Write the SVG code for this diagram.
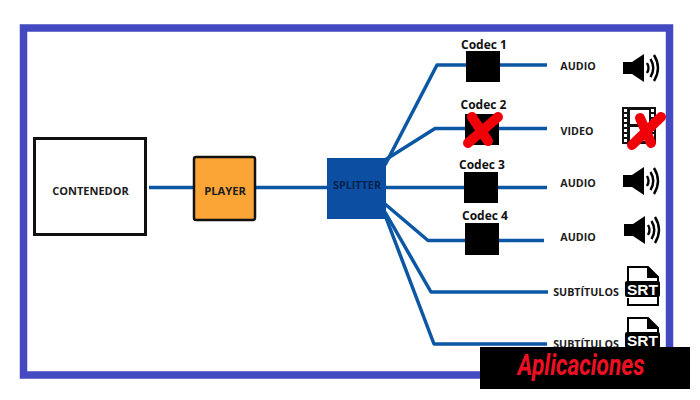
<svg xmlns="http://www.w3.org/2000/svg" width="700" height="400" viewBox="0 0 700 400">
<style>
text{font-family:"Open Sans","Liberation Sans",sans-serif;font-weight:700;fill:#1c1c1c;text-anchor:middle}
.lab{font-size:10.700px}
.cod{font-size:12px;fill:#111}
.wire{fill:none;stroke:#0b57a4;stroke-width:3.500;stroke-linejoin:round}
.codec{fill:#000}
.x{fill:none;stroke:#f00008;stroke-width:10;stroke-linecap:round}
</style>
<defs>
<g id="spk">
<path d="M0 8H9L21 0V28L9 20H0Z" fill="#000"/>
<g fill="none" stroke="#000" stroke-width="2.400">
<path d="M24 9Q27 14 24 19"/>
<path d="M27.500 5Q33 14 27.500 23"/>
<path d="M31 1Q39 14 31 27"/>
</g>
</g>
<g id="srt">
<path d="M3 21V1H23L33 11V39H3V32" fill="#fff" stroke="#000" stroke-width="2"/>
<path d="M23 1V11H33" fill="#000" stroke="#000" stroke-width="2"/>
<rect x="0" y="15" width="35" height="16" rx="2" fill="#000"/>
<text x="17.500" y="28.500" style="font-size:15.500px;fill:#fff;font-family:'Liberation Sans',sans-serif">SRT</text>
</g>
</defs>
<rect width="700" height="400" fill="#fff"/>
<rect x="23.500" y="28" width="646" height="347" fill="#fff" stroke="#4349c0" stroke-width="7.500"/>
<g id="connectors">
<path class="wire" d="M149 187.500H327"/>
<path class="wire" d="M385 165L437 65H547"/>
<path class="wire" d="M385 160L435 128.500H547"/>
<path class="wire" d="M385 187.500H547"/>
<path class="wire" d="M385 204L428 240.500H544"/>
<path class="wire" d="M385 212L431 292H548"/>
<path class="wire" d="M385 215L434 344H547"/>
</g>
<g id="contenedor">
<rect x="34.500" y="138.500" width="111" height="96" fill="#fff" stroke="#111" stroke-width="3"/>
<text x="90.500" y="195" style="font-size:11px">CONTENEDOR</text>
</g>
<g id="player">
<rect x="194" y="157" width="61" height="63" rx="2" fill="#fba537" stroke="#111" stroke-width="2.500"/>
<text x="225" y="195" style="font-size:11.200px">PLAYER</text>
</g>
<g id="splitter">
<rect x="327" y="158" width="59" height="61" fill="#0b4ea2"/>
<text x="357" y="189" style="fill:#06224f;font-size:10.800px">SPLITTER</text>
</g>
<g id="codec1">
<rect class="codec" x="466" y="51" width="34" height="31"/>
<text class="cod" x="484" y="49">Codec 1</text>
</g>
<g id="codec2">
<rect class="codec" x="465" y="114" width="34" height="31"/>
<text class="cod" x="483.500" y="109">Codec 2</text>
<path class="x" d="M472 117L488 141M498 117L468 143"/>
</g>
<g id="codec3">
<rect class="codec" x="464" y="172" width="34" height="31"/>
<text class="cod" x="482" y="169">Codec 3</text>
</g>
<g id="codec4">
<rect class="codec" x="465" y="223" width="34" height="32"/>
<text class="cod" x="485" y="220">Codec 4</text>
</g>
<g id="out1"><text class="lab" x="578" y="70">AUDIO</text><use href="#spk" x="623" y="54"/></g>
<g id="out2"><text class="lab" x="577" y="135">VIDEO</text>
<g id="film">
<rect x="622" y="107" width="34" height="37" fill="#111"/>
<rect x="630" y="110" width="19" height="14" fill="#fff"/>
<rect x="630" y="127" width="19" height="14" fill="#fff"/>
<path d="M625.500 109v33M652.500 109v33" stroke="#fff" stroke-width="3" stroke-dasharray="3 2"/>
</g>
<path class="x" d="M640 118L651 143M661 117L632 145"/>
</g>
<g id="out3"><text class="lab" x="578" y="187">AUDIO</text><use href="#spk" x="623" y="167"/></g>
<g id="out4"><text class="lab" x="578" y="241">AUDIO</text><use href="#spk" x="624" y="216"/></g>
<g id="out5"><text class="lab" x="586" y="296">SUBTÍTULOS</text><use href="#srt" x="625" y="266"/></g>
<g id="out6"><text class="lab" x="586" y="348">SUBTÍTULOS</text><use href="#srt" x="625" y="317"/></g>
<g id="badge">
<rect x="480" y="347" width="210" height="42" fill="#000"/>
<text x="581" y="375" textLength="127" lengthAdjust="spacingAndGlyphs" style="font-family:Roboto,'Liberation Sans',sans-serif;font-style:italic;font-size:30px;fill:#ef0f23">Aplicaciones</text>
</g>
</svg>
